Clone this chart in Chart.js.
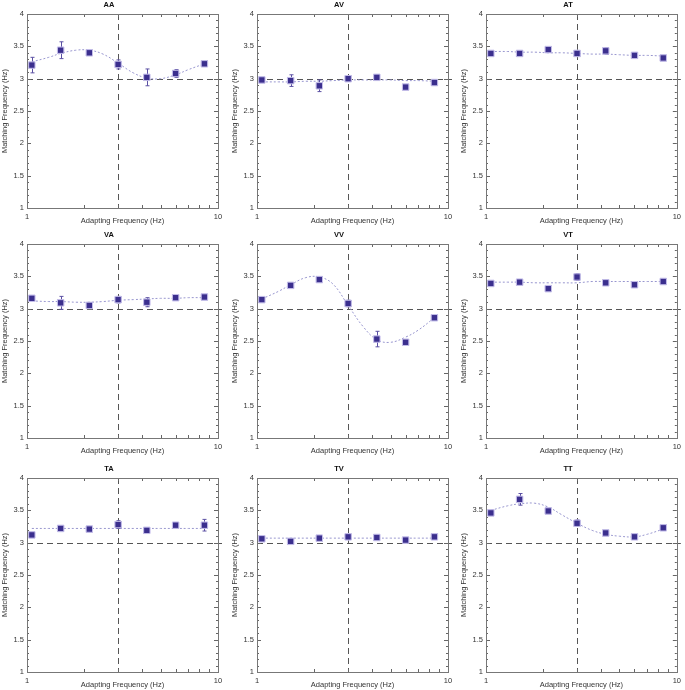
<!DOCTYPE html>
<html>
<head>
<meta charset="utf-8">
<script src="https://cdn.jsdelivr.net/npm/chart.js@4/dist/chart.umd.min.js"></script>
<style>
  body { margin: 0; background: #fff; width: 685px; height: 690px; overflow: hidden; position: relative; }
  .panel { position: absolute; }
</style>
</head>
<body>
<div id="grid"></div>
<script>
// adapting frequencies (Hz), same for every panel
const freqs = [1.06, 1.5, 2.12, 3, 4.24, 6, 8.49];
// x positions sampled along the fitted curve
const fitX = [1.06, 1.3, 1.5, 1.8, 2.12, 2.5, 3, 3.6, 4.24, 5, 6, 7, 8.49];

const titles = ["AA", "AV", "AT", "VA", "VV", "VT", "TA", "TV", "TT"];

const aaMean = [3.21, 3.44, 3.40, 3.22, 3.02, 3.08, 3.23];
const aaErr  = [0.12, 0.13, 0.03, 0.07, 0.13, 0.06, 0.04];
const aaFit  = [3.26, 3.33, 3.39, 3.44, 3.44, 3.38, 3.24, 3.09, 3.01, 3.00, 3.06, 3.14, 3.23];

const avMean = [2.98, 2.97, 2.89, 3.00, 3.02, 2.87, 2.94];
const avErr  = [0.03, 0.09, 0.09, 0.04, 0.04, 0.03, 0.04];
const avFit  = [2.95, 2.95, 2.95, 2.96, 2.96, 2.97, 2.98, 2.98, 2.98, 2.98, 2.97, 2.97, 2.96];

const atMean = [3.39, 3.39, 3.45, 3.39, 3.43, 3.36, 3.32];
const atErr  = [0.03, 0.03, 0.03, 0.03, 0.05, 0.04, 0.03];
const atFit  = [3.42, 3.42, 3.41, 3.41, 3.40, 3.40, 3.39, 3.38, 3.38, 3.37, 3.36, 3.36, 3.35];

const vaMean = [3.16, 3.09, 3.05, 3.14, 3.10, 3.17, 3.18];
const vaErr  = [0.03, 0.10, 0.03, 0.05, 0.07, 0.03, 0.03];
const vaFit  = [3.12, 3.11, 3.11, 3.10, 3.10, 3.11, 3.13, 3.14, 3.15, 3.16, 3.16, 3.17, 3.17];

const vvMean = [3.14, 3.36, 3.45, 3.08, 2.53, 2.48, 2.86];
const vvErr  = [0.03, 0.03, 0.03, 0.05, 0.12, 0.03, 0.03];
const vvFit  = [3.15, 3.27, 3.37, 3.48, 3.49, 3.38, 3.05, 2.72, 2.52, 2.48, 2.56, 2.67, 2.86];

const vtMean = [3.39, 3.41, 3.31, 3.49, 3.40, 3.37, 3.42];
const vtErr  = [0.03, 0.03, 0.03, 0.05, 0.04, 0.03, 0.03];
const vtFit  = [3.41, 3.41, 3.41, 3.40, 3.40, 3.40, 3.40, 3.42, 3.42, 3.42, 3.42, 3.42, 3.42];

const taMean = [3.12, 3.22, 3.21, 3.28, 3.19, 3.27, 3.27];
const taErr  = [0.03, 0.03, 0.03, 0.06, 0.03, 0.04, 0.09];
const taFit  = [3.22, 3.22, 3.22, 3.22, 3.22, 3.22, 3.22, 3.22, 3.22, 3.22, 3.22, 3.22, 3.22];

const tvMean = [3.06, 3.02, 3.07, 3.09, 3.08, 3.04, 3.09];
const tvErr  = [0.03, 0.03, 0.03, 0.03, 0.03, 0.03, 0.03];
const tvFit  = [3.07, 3.07, 3.07, 3.07, 3.07, 3.07, 3.07, 3.07, 3.07, 3.07, 3.07, 3.07, 3.07];

const ttMean = [3.46, 3.67, 3.49, 3.30, 3.15, 3.09, 3.23];
const ttErr  = [0.03, 0.09, 0.03, 0.05, 0.03, 0.03, 0.03];
const ttFit  = [3.50, 3.57, 3.60, 3.61, 3.55, 3.43, 3.30, 3.19, 3.13, 3.10, 3.09, 3.13, 3.21];

const means = [aaMean, avMean, atMean, vaMean, vvMean, vtMean, taMean, tvMean, ttMean];
const errs  = [aaErr, avErr, atErr, vaErr, vvErr, vtErr, taErr, tvErr, ttErr];
const fits  = [aaFit, avFit, atFit, vaFit, vvFit, vtFit, taFit, tvFit, ttFit];

const yTicks = [1, 1.5, 2, 2.5, 3, 3.5, 4];
const xLabels = [1, 10];
const refX = 3, refY = 3;

const FONT = "'Liberation Sans', Arial, sans-serif";
const colLeft = [0, 230, 459];
const colWidth = [228, 228, 226];
const rowTop = [0, 230, 464];

// inside tick marks, box, reference lines
const framePlugin = {
  id: "frame",
  beforeDatasetsDraw(chart) {
    const { ctx, chartArea: a, scales: { x, y } } = chart;
    ctx.save();
    ctx.strokeStyle = "#555";
    ctx.lineWidth = 1;
    ctx.setLineDash([6, 4]);
    const px = Math.round(x.getPixelForValue(refX)) + 0.5;
    const py = Math.round(y.getPixelForValue(refY)) + 0.5;
    ctx.beginPath();
    ctx.moveTo(px, a.top); ctx.lineTo(px, a.bottom);
    ctx.moveTo(a.left, py); ctx.lineTo(a.right + 4, py);
    ctx.stroke();
    ctx.setLineDash([]);

    ctx.strokeStyle = "#666";
    ctx.beginPath();
    for (let v = 1; v <= 10; v++) {
      const p = Math.round(x.getPixelForValue(v)) + 0.5;
      ctx.moveTo(p, a.bottom); ctx.lineTo(p, a.bottom - 3);
      ctx.moveTo(p, a.top); ctx.lineTo(p, a.top + 3);
    }
    for (let k = 10; k <= 40; k++) {
      const p = Math.round(y.getPixelForValue(k / 10)) + 0.5;
      const len = k % 5 === 0 ? 4 : 2;
      ctx.moveTo(a.left, p); ctx.lineTo(a.left + len, p);
      ctx.moveTo(a.right, p); ctx.lineTo(a.right - len, p);
    }
    ctx.stroke();
    ctx.strokeStyle = "#777";
    ctx.strokeRect(Math.round(a.left) + 0.5, Math.round(a.top) + 0.5,
      Math.round(a.right - a.left), Math.round(a.bottom - a.top));
    ctx.restore();
  },
  afterDatasetsDraw(chart) {
    const { ctx, scales: { x, y } } = chart;
    const e = chart.options.plugins.frame.errors;
    const m = chart.data.datasets[1].data;
    ctx.save();
    ctx.strokeStyle = "#5b50a3";
    ctx.lineWidth = 1;
    ctx.beginPath();
    m.forEach((pt, i) => {
      const px = Math.round(x.getPixelForValue(pt.x)) + 0.5;
      const t = y.getPixelForValue(pt.y + e[i]);
      const b = y.getPixelForValue(pt.y - e[i]);
      ctx.moveTo(px, t); ctx.lineTo(px, b);
      ctx.moveTo(px - 2, t); ctx.lineTo(px + 2, t);
      ctx.moveTo(px - 2, b); ctx.lineTo(px + 2, b);
    });
    ctx.stroke();
    ctx.restore();
    // redraw the markers over the bars
    chart.getDatasetMeta(1).controller.draw();
  }
};

const grid = document.getElementById("grid");
titles.forEach((name, i) => {
  const r = Math.floor(i / 3), c = i % 3;
  const div = document.createElement("div");
  div.className = "panel";
  div.style.left = colLeft[c] + "px";
  div.style.top = rowTop[r] + "px";
  div.style.width = colWidth[c] + "px";
  div.style.height = "230px";
  const cv = document.createElement("canvas");
  div.appendChild(cv);
  grid.appendChild(div);

  new Chart(cv, {
    data: {
      datasets: [
        {
          type: "line",
          data: fitX.map((v, k) => ({ x: v, y: fits[i][k] })),
          borderColor: "#9896cf",
          borderWidth: 1,
          borderDash: [2, 2],
          pointRadius: 0,
          tension: 0.4,
          fill: false
        },
        {
          type: "scatter",
          data: freqs.map((v, k) => ({ x: v, y: means[i][k] })),
          pointStyle: "rect",
          pointRadius: 4.5,
          backgroundColor: "#3b2f8e",
          borderColor: "rgba(205,200,238,0.9)",
          borderWidth: 1
        }
      ]
    },
    options: {
      responsive: true,
      maintainAspectRatio: false,
      animation: false,
      layout: { padding: { left: 0, right: colWidth[c] - 218, top: 0, bottom: 0 } },
      plugins: {
        legend: { display: false },
        tooltip: { enabled: false },
        title: {
          display: true,
          text: name,
          color: "#111",
          font: { family: FONT, size: 7.5, weight: "bold" },
          padding: { top: 0.5, bottom: 4.5 }
        },
        frame: { errors: errs[i] }
      },
      scales: {
        x: {
          type: "logarithmic",
          min: 1,
          max: 10,
          grid: { display: false, drawTicks: false },
          border: { display: false },
          afterBuildTicks(s) { s.ticks = xLabels.map(v => ({ value: v })); },
          afterFit(s) { s.height = 22; },
          ticks: {
            autoSkip: false,
            maxRotation: 0,
            padding: 4,
            color: "#333",
            font: { family: FONT, size: 7.5 },
            callback: v => String(v)
          },
          title: {
            display: true,
            text: "Adapting Frequency (Hz)",
            color: "#333",
            font: { family: FONT, size: 7.5 },
            padding: { top: 0, bottom: 4.5 }
          }
        },
        y: {
          min: 1,
          max: 4,
          grid: { display: false, drawTicks: false },
          border: { display: false },
          afterBuildTicks(s) { s.ticks = yTicks.map(v => ({ value: v })); },
          afterFit(s) { s.width = 27; },
          ticks: {
            padding: 3,
            color: "#333",
            font: { family: FONT, size: 7.5 },
            callback: v => String(v)
          },
          title: {
            display: true,
            text: "Matching Frequency (Hz)",
            color: "#333",
            font: { family: FONT, size: 7.5 },
            padding: { top: 0.5, bottom: 0 }
          }
        }
      }
    },
    plugins: [framePlugin]
  });
});
</script>
</body>
</html>
